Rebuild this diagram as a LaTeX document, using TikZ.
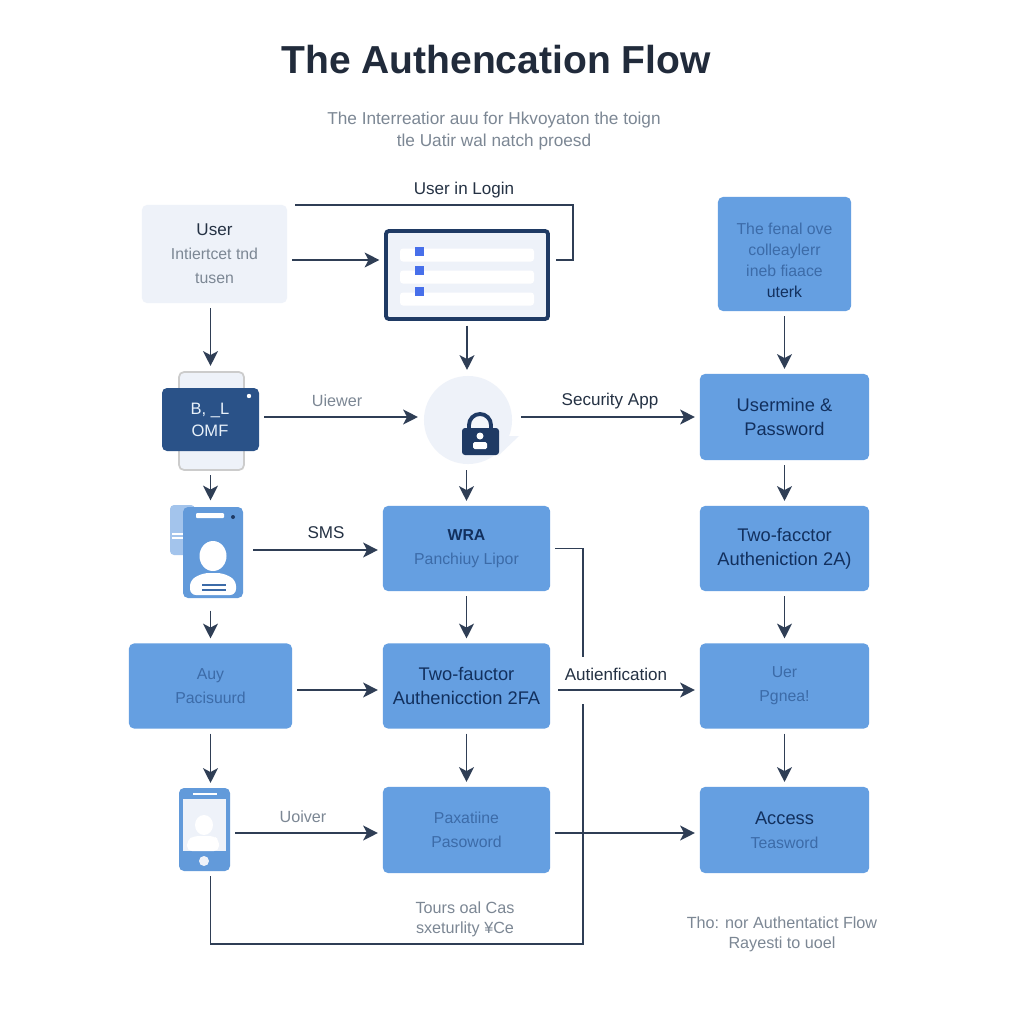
\documentclass[tikz,border=0pt]{standalone}
\usepackage{fontspec}
\setmainfont{Liberation Sans}
\usetikzlibrary{arrows.meta}
\definecolor{boxblue}{HTML}{659FE1}
\definecolor{palebox}{HTML}{EEF2F9}
\definecolor{navy}{HTML}{1F3A64}
\definecolor{cardblue}{HTML}{2A5288}
\definecolor{linecol}{HTML}{2F3E55}
\definecolor{boxtext}{HTML}{12305E}
\definecolor{boxsub}{HTML}{3C6BA8}
\definecolor{greytext}{HTML}{7C8794}
\tikzset{
  flow/.style={draw=linecol,line width=.55pt,-{Stealth[length=4.2pt,width=4.2pt,inset=1.1pt]}},
  plainline/.style={draw=linecol,line width=.55pt},
  bluebox/.style={fill=boxblue,rounded corners=.05cm,outer sep=.05cm,align=center,inner sep=0pt,
    text=boxtext,font=\fontsize{5.2}{6.8}\selectfont},
  hostbox/.style={inner sep=0pt,outer sep=.05cm},
  lbl/.style={font=\fontsize{4.85}{6}\selectfont,text=linecol!80!black,inner sep=0pt},
  greylbl/.style={font=\fontsize{4.6}{5.7}\selectfont,text=greytext,align=center,inner sep=0pt},
}
\newcommand{\subtxt}[1]{{\fontsize{4.5}{6.8}\selectfont\color{boxsub}#1}}
\begin{document}
\begin{tikzpicture}[x=.01cm,y=-.01cm]
    \fill[white] (0,0) rectangle (1024,1024);
    \useasboundingbox (0,0) rectangle (1024,1024);
    % title
    \node[font=\fontsize{11.1}{13}\selectfont\bfseries,text=linecol!70!black,inner sep=0pt] (title) at (496,60) {The Authencation Flow};
    \node[greylbl,font=\fontsize{4.9}{6.25}\selectfont] (subtitle) at (494,131) {The Interreatior auu for Hkvoyaton the toign\\tle Uatir wal natch proesd};
    % left column
    \node[bluebox,fill=palebox,minimum width=1.45cm,minimum height=.98cm] (user) at (214.5,254)
      {\fontsize{4.85}{6.6}\selectfont\textcolor{linecol!80!black}{User}\\\textcolor{greytext}{\fontsize{4.5}{6.6}\selectfont Intiertcet tnd}\\\textcolor{greytext}{\fontsize{4.5}{6.6}\selectfont tusen}};
    \node[hostbox,minimum width=.97cm,minimum height=.99cm] (card) at (210.5,420.5) {};
    \node[hostbox,minimum width=.60cm,minimum height=.93cm] (phoneA) at (213,552) {};
    \node[bluebox,minimum width=1.63cm,minimum height=.85cm] (any) at (210.5,686) {\subtxt{Auy}\\\subtxt{Pacisuurd}};
    \node[hostbox,minimum width=.51cm,minimum height=.83cm] (phoneB) at (204.5,829.5) {};
    % middle column
    \node[hostbox,minimum width=1.65cm,minimum height=.91cm] (form) at (467,275) {};
    \node[circle,fill=palebox,inner sep=0pt,minimum size=.88cm,outer sep=.06cm] (lock) at (468,420) {};
    \node[bluebox,minimum width=1.67cm,minimum height=.85cm] (pan) at (466.5,548.5) {\textbf{\fontsize{4.5}{6.8}\selectfont WRA}\\\subtxt{Panchiuy Lipor}};
    \node[bluebox,minimum width=1.67cm,minimum height=.85cm] (two) at (466.5,686) {Two-fauctor\\Authenicction 2FA};
    \node[bluebox,minimum width=1.67cm,minimum height=.86cm] (passB) at (466.5,830) {\subtxt{Paxatiine}\\\subtxt{Pasoword}};
    % right column
    \node[bluebox,minimum width=1.33cm,minimum height=1.14cm] (info) at (784.5,254) {};
    \node[font=\fontsize{4.5}{6}\selectfont,text=boxsub,align=center,inner sep=0pt] (infotxt) at (784.5,260)
      {The fenal ove\\colleaylerr\\ineb fiaace\\\textcolor{boxtext}{uterk}};
    \node[bluebox,minimum width=1.69cm,minimum height=.86cm] (usermine) at (784.5,417) {Usermine \&\\Password};
    \node[bluebox,minimum width=1.69cm,minimum height=.85cm] (twoR) at (784.5,548.5) {Two-facctor\\Autheniction 2A)};
    \node[bluebox,minimum width=1.69cm,minimum height=.85cm] (userR) at (784.5,686) {\subtxt{Uer}\\\subtxt{Pgnea!}};
    \node[bluebox,minimum width=1.69cm,minimum height=.86cm] (access) at (784.5,830) {Access\\\subtxt{Teasword}};
    % login form
    \draw[navy,line width=1.1pt,fill=palebox,rounded corners=.03cm] (386,231) rectangle (548,319);
    \foreach \y in {255,277,299}
      \fill[white,rounded corners=.03cm] (400,\y-6.5) rectangle (534,\y+6.5);
    \foreach \y in {251,270,291}
      \fill[boxblue!70!blue] (415,\y-4.5) rectangle (424,\y+4.5);
    % lock
    \fill[palebox] (505,436) -- (519,436) -- (498,456) -- cycle;
    \draw[navy,line width=1.1pt,fill=palebox!70!white] (469,430) -- (469,425) arc[start angle=180,end angle=0,radius=.11cm] -- (491,430);
    \fill[navy,rounded corners=.03cm] (462,428) rectangle (499,455);
    \fill[white] (480,436) circle (3.5);
    \fill[white,rounded corners=.015cm] (473,449) rectangle (487,442);
    % card
    \draw[draw=black!20,line width=.5pt,fill=palebox,rounded corners=.05cm] (179,372) rectangle (244,470);
    \fill[cardblue,rounded corners=.05cm] (162,388) rectangle (259,451);
    \fill[white] (249,396) circle (2.2);
    \node[font=\fontsize{4.7}{6.2}\selectfont,text=white!85!boxblue,align=center,inner sep=0pt] (cardtxt) at (210,420) {B, \_L\\OMF};
    % phone with person
    \fill[boxblue!55!palebox,rounded corners=.04cm] (170,505) rectangle (195,555);
    \foreach \y in {534,538}
      \draw[white,line width=.4pt] (172,\y) -- (183,\y);
    \fill[boxblue!97!black,rounded corners=.05cm] (183,507) rectangle (243,598);
    \fill[white,rounded corners=.01cm] (196,513) rectangle (224,518);
    \fill[navy] (233,517) circle (2);
    \fill[white] (213,556) ellipse (13.5 and 15);
    \fill[white,rounded corners=.06cm] (190,595) -- (190,580) -- (203,573) -- (223,573) -- (236,580) -- (236,595) -- cycle;
    \foreach \y in {585,590}
      \draw[boxsub,line width=.3pt] (202,\y) -- (226,\y);
    % phone with screen
    \fill[boxblue!97!black,rounded corners=.05cm] (179,788) rectangle (230,871);
    \fill[palebox] (183,799) rectangle (226,851);
    \fill[white] (193,793) rectangle (217,795);
    \fill[palebox] (204,861) circle (5);
    \fill[white] (204,825) ellipse (9 and 10);
    \fill[white,rounded corners=.05cm] (187,851) -- (187,840) -- (194,836) -- (214,836) -- (219,840) -- (219,851) -- cycle;
    % vertical flows
    \draw[flow] (user.south -| card.north) -- (card.north);
    \draw[flow] (card.south) -- (card.south |- phoneA.north);
    \draw[flow,shorten <=.07cm] (phoneA.south -| any.north) -- (any.north);
    \draw[flow] (any.south) -- (any.south |- phoneB.north);
    \draw[flow] (form.south) -- (form.south |- lock.north);
    \draw[flow] (lock.south -| pan.north) -- (pan.north);
    \draw[flow] (pan.south) -- (two.north);
    \draw[flow] (two.south) -- (passB.north);
    \draw[flow] (info.south) -- (usermine.north);
    \draw[flow] (usermine.south) -- (twoR.north);
    \draw[flow] (twoR.south) -- (userR.north);
    \draw[flow] (userR.south) -- (access.north);
    % horizontal flows
    \draw[flow] ([yshift=-.06cm]user.east) -- ([yshift=.15cm]form.west);
    \draw[flow] (card.east |- usermine.west) -- (lock.west |- usermine.west);
    \draw[flow,shorten <=.03cm] (lock.east |- usermine.west) -- (usermine.west);
    \draw[flow,shorten <=.05cm] ([yshift=-.015cm]phoneA.east |- pan.west) -- ([yshift=-.015cm]pan.west);
    \draw[flow] ([yshift=-.04cm]any.east) -- ([yshift=-.04cm]two.west);
    \draw[flow,shorten <=.03cm] ([yshift=-.04cm]two.east) -- ([yshift=-.04cm]userR.west);
    \draw[flow] ([yshift=-.03cm]phoneB.east |- passB.west) -- ([yshift=-.03cm]passB.west);
    \draw[flow] ([yshift=-.03cm]passB.east) -- ([yshift=-.03cm]access.west);
    % login line and long return line
    \draw[plainline] (295,205) -| (573,260) -- (556,260);
    \coordinate (gapTop) at (583,657);
    \coordinate (gapLow) at (583,704);
    \draw[plainline] (pan.east) -- (gapTop |- pan.east) -- (gapTop);
    \draw[plainline] (phoneB.south -| any.south) |- (583,944) -- (gapLow);
    % labels
    \node[lbl] (loginlbl) at (464,190) {User in Login};
    \node[greylbl] (viewerA) at (337,401) {Uiewer};
    \node[lbl] (applbl) at (610,401) {Security App};
    \node[lbl] (smslbl) at (326,533) {SMS};
    \node[lbl] (authlbl) at (616,674) {Autienfication};
    \node[greylbl] (viewerB) at (303,817) {Uoiver};
    \node[greylbl] (notelbl) at (465,919) {Tours oal Cas\\sxeturlity ¥Ce};
    \node[greylbl] (footlbl) at (782,934) {Tho: nor Authentatict Flow\\Rayesti to uoel};
\end{tikzpicture}
\end{document}
